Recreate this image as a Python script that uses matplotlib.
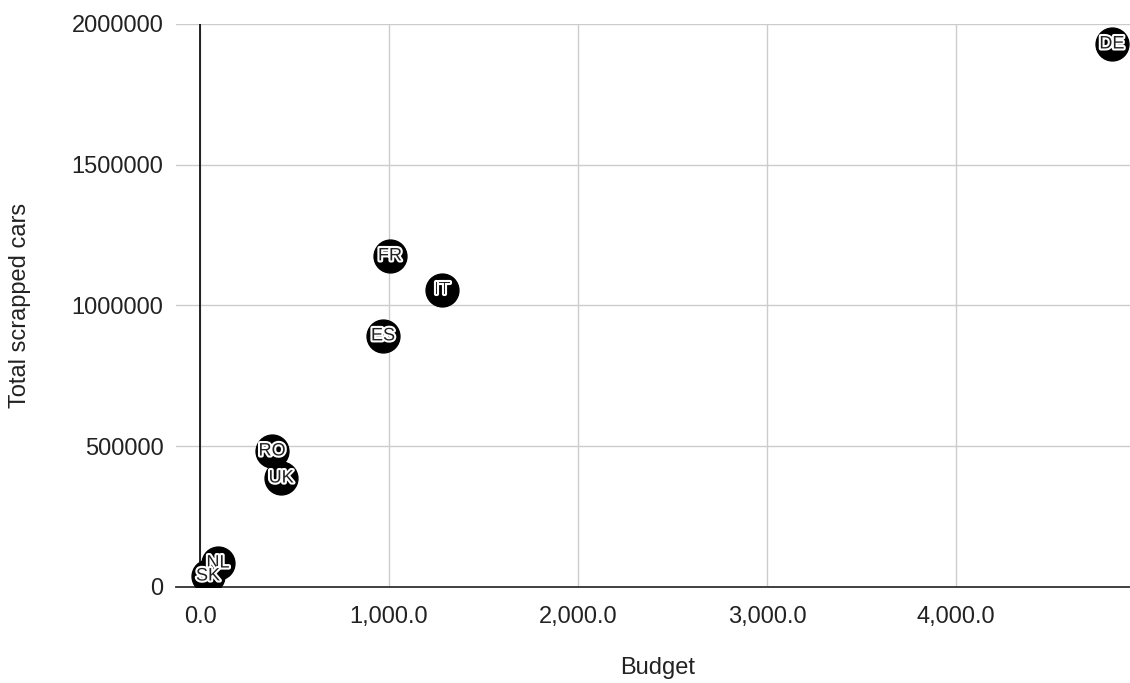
import matplotlib.pyplot as plt
import matplotlib.patheffects as pe
from matplotlib.ticker import FuncFormatter

plt.rcParams['font.family'] = ['Liberation Sans', 'DejaVu Sans']

# values
countries = ['DE', 'FR', 'IT', 'ES', 'RO', 'UK', 'NL', 'SK']
budget = [4825, 1005, 1280, 968, 381, 429, 95, 42]
scrapped = [1929000, 1176000, 1055000, 892000, 483000, 387000, 85000, 39000]

fig = plt.figure(figsize=(11.3, 6.83), dpi=100)
ax = fig.add_axes([0.1558, 0.1406, 0.8442, 0.8243])

ax.scatter(budget, scrapped, s=560, color='black', zorder=3, clip_on=True)
for c, x, y in zip(countries, budget, scrapped):
    ax.text(x, y, c, ha='center', va='center', fontsize=13, color='#222222', zorder=4,
            path_effects=[pe.withStroke(linewidth=3, foreground='white')])

ax.set_xlim(-127, 4921)
ax.set_ylim(0, 2000000)
ax.set_xticks([0, 1000, 2000, 3000, 4000])
ax.set_yticks([0, 500000, 1000000, 1500000, 2000000])
ax.xaxis.set_major_formatter(FuncFormatter(lambda v, p: '{:,.1f}'.format(v)))
ax.yaxis.set_major_formatter(FuncFormatter(lambda v, p: '{:d}'.format(int(v))))
ax.tick_params(length=0, labelsize=17, colors='#222222')
ax.tick_params(axis='x', pad=14)
ax.tick_params(axis='y', pad=9)

ax.grid(True, color='#cccccc', linewidth=1)
ax.set_axisbelow(True)
for s in ['top', 'right', 'left']:
    ax.spines[s].set_visible(False)
ax.spines['bottom'].set_color('#333333')
ax.spines['bottom'].set_linewidth(1.3)
ax.axvline(0, color='black', linewidth=1.2, zorder=2)

fig.text(658 / 1130, 1 - 668 / 683, 'Budget', ha='center', va='center', fontsize=17, color='#222222')
fig.text(20 / 1130, 1 - 305 / 683, 'Total scrapped cars', ha='center', va='center',
         rotation=90, fontsize=17, color='#222222')

fig.savefig('out.png')
